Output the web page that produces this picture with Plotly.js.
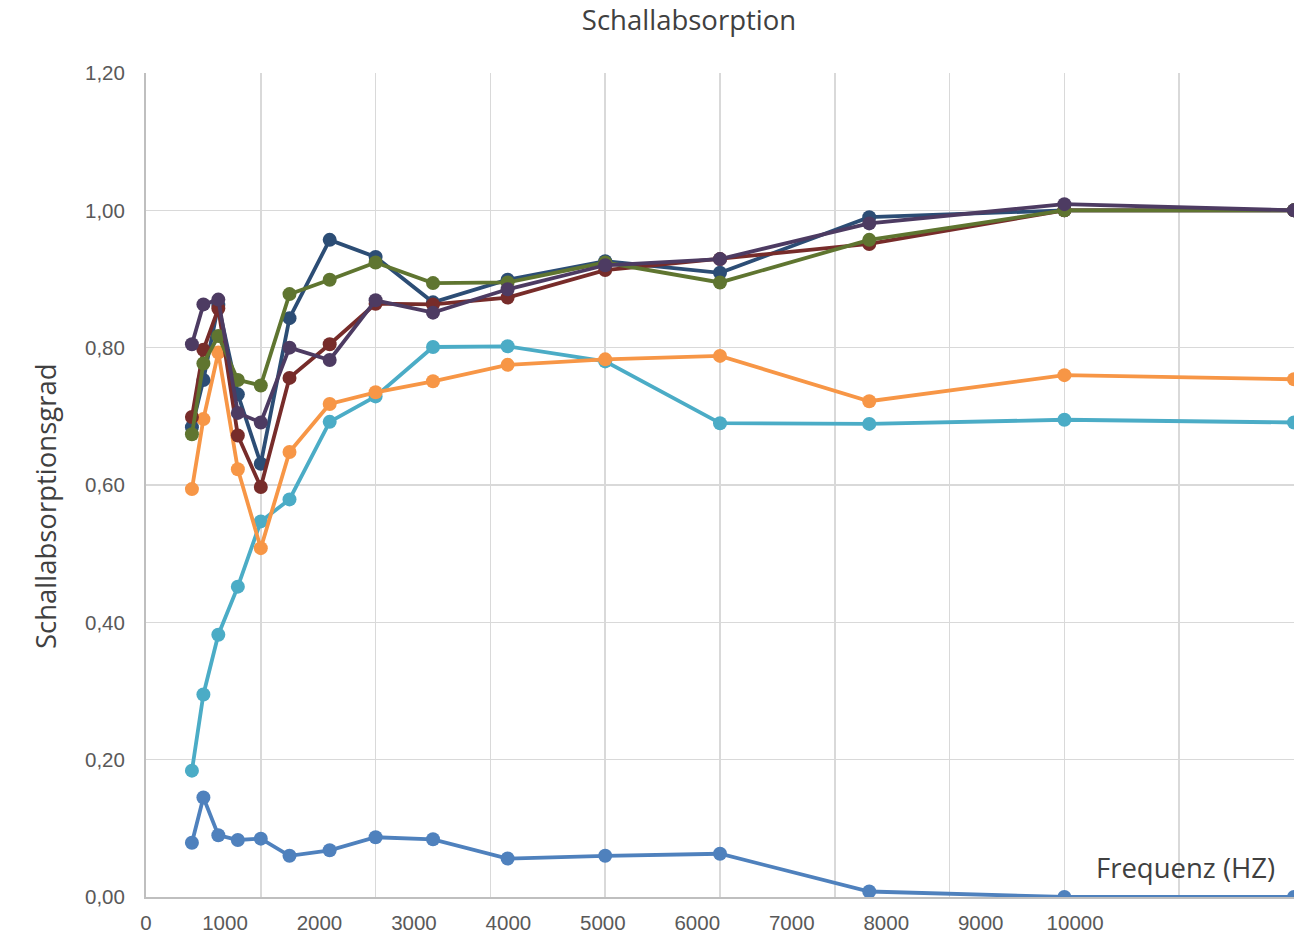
<!DOCTYPE html>
<html>
<head>
<meta charset="utf-8">
<script src="https://cdn.plot.ly/plotly-3.0.1.min.js"></script>
<style>html,body{margin:0;padding:0;background:#fff;}#chart{width:1310px;height:940px;}</style>
</head>
<body>
<div id="chart"></div>
<script>
// Frequencies (Hz), third-octave bands
const frequencies = [400, 500, 630, 800, 1000, 1250, 1600, 2000, 2500, 3150, 4000, 5000, 6300, 8000, 10000];

// Series values (absorption coefficient)
const seriesBlue   = [0.079, 0.145, 0.090, 0.083, 0.085, 0.060, 0.068, 0.087, 0.084, 0.056, 0.060, 0.063, 0.008, 0.000, 0.000];
const seriesTeal   = [0.184, 0.295, 0.382, 0.452, 0.547, 0.579, 0.692, 0.729, 0.801, 0.802, 0.780, 0.690, 0.689, 0.695, 0.691];
const seriesOrange = [0.594, 0.696, 0.793, 0.623, 0.508, 0.648, 0.718, 0.735, 0.751, 0.775, 0.783, 0.788, 0.722, 0.760, 0.754];
const seriesNavy   = [0.684, 0.753, 0.862, 0.732, 0.631, 0.843, 0.957, 0.932, 0.866, 0.899, 0.926, 0.909, 0.990, 1.000, 1.000];
const seriesRed    = [0.699, 0.797, 0.857, 0.672, 0.597, 0.756, 0.805, 0.864, 0.863, 0.873, 0.913, 0.929, 0.951, 1.000, 1.000];
const seriesGreen  = [0.674, 0.777, 0.817, 0.753, 0.745, 0.878, 0.899, 0.924, 0.894, 0.895, 0.924, 0.895, 0.957, 1.000, 1.000];
const seriesPurple = [0.805, 0.863, 0.870, 0.705, 0.691, 0.800, 0.782, 0.869, 0.851, 0.885, 0.920, 0.929, 0.981, 1.009, 1.000];

// X tick labels as printed in the original (placed independently of the grid)
const xTickLabels = ["0", "1000", "2000", "3000", "4000", "5000", "6000", "7000", "8000", "9000", "10000"];
const xTickPositions = [0, 688, 1511, 2334, 3157, 3979, 4802, 5625, 6448, 7271, 8093];

const seriesList = [
  {y: seriesBlue, color: '#4F81BD'},
  {y: seriesTeal, color: '#4BACC6'},
  {y: seriesOrange, color: '#F79646'},
  {y: seriesNavy, color: '#2C4D75'},
  {y: seriesRed, color: '#772C2A'},
  {y: seriesGreen, color: '#5F7530'},
  {y: seriesPurple, color: '#4D3B62'}
];

const traces = seriesList.map(s => ({
  type: 'scatter',
  mode: 'lines+markers',
  x: frequencies,
  y: s.y,
  line: {color: s.color, width: 3.8},
  marker: {color: s.color, size: 14},
  showlegend: false,
  hoverinfo: 'x+y'
}));

// invisible trace to activate the label axis
traces.push({type: 'scatter', x: [0], y: [0], xaxis: 'x2', mode: 'markers', marker: {opacity: 0}, showlegend: false, hoverinfo: 'skip'});

const tickFont = {family: 'Liberation Sans, Arial, sans-serif', size: 20.5, color: '#595959'};
const titleFont = {family: 'Open Sans, Noto Sans, sans-serif', size: 27.5, color: '#404040'};

const layout = {
  width: 1310,
  height: 940,
  paper_bgcolor: '#ffffff',
  plot_bgcolor: '#ffffff',
  separators: ',.',
  margin: {l: 146, r: 16, t: 73, b: 43},
  title: {
    text: 'Schallabsorption',
    font: titleFont,
    x: 689 / 1310, xref: 'container', xanchor: 'center',
    y: 1 - 20 / 940, yref: 'container', yanchor: 'middle'
  },
  xaxis: {
    range: [0, 10000],
    tick0: 0, dtick: 1000,
    showgrid: true, gridcolor: '#d9d9d9', gridwidth: 1.5,
    showline: true, linecolor: '#bfbfbf', linewidth: 2,
    zeroline: false,
    showticklabels: false,
    ticks: '',
    fixedrange: true
  },
  xaxis2: {
    overlaying: 'x',
    anchor: 'y',
    side: 'bottom',
    range: [0, 10000],
    tickmode: 'array',
    tickvals: xTickPositions,
    ticktext: xTickLabels,
    tickfont: tickFont,
    showgrid: false,
    showline: false,
    zeroline: false,
    ticks: 'outside', ticklen: 7, tickcolor: 'rgba(0,0,0,0)'
  },
  yaxis: {
    range: [0, 1.2],
    tick0: 0, dtick: 0.2,
    tickformat: '.2f',
    tickfont: tickFont,
    showgrid: true, gridcolor: '#d9d9d9', gridwidth: 1.5,
    showline: true, linecolor: '#bfbfbf', linewidth: 2,
    zeroline: false,
    ticks: 'outside', ticklen: 15, tickcolor: 'rgba(0,0,0,0)'
  },
  annotations: [
    {
      text: 'Schallabsorptionsgrad',
      textangle: -90,
      xref: 'paper', yref: 'paper',
      x: -0.087, y: (897 - 506) / 824,
      xanchor: 'center', yanchor: 'middle',
      showarrow: false,
      font: titleFont
    },
    {
      text: 'Frequenz (HZ)',
      xref: 'paper', yref: 'paper',
      x: (1277 - 146) / 1148, y: (897 - 867) / 824,
      xanchor: 'right', yanchor: 'middle',
      showarrow: false,
      font: titleFont
    }
  ]
};

Plotly.newPlot('chart', traces, layout, {staticPlot: true});
</script>
</body>
</html>
